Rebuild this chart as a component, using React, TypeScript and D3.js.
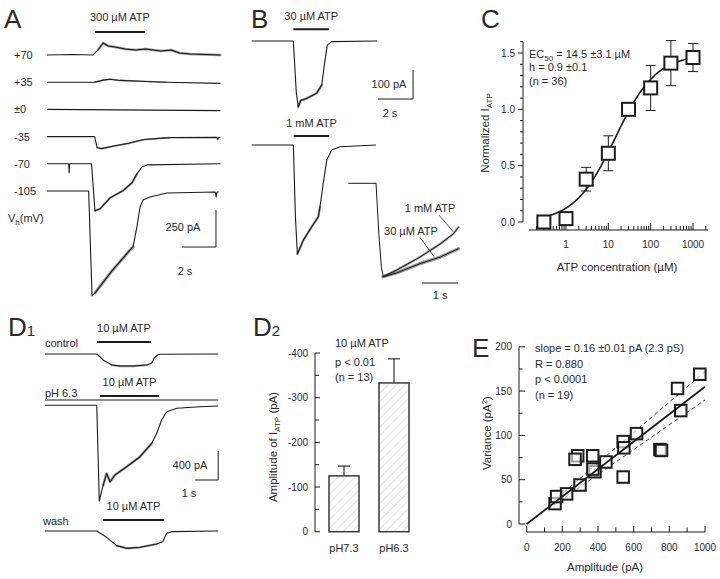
import React from 'react';
import * as d3 from 'd3';

const FONT = '"Liberation Sans", Arial, Helvetica, sans-serif';
const INK = '#1c1c1c';
const TXT = '#2a2a2a';

type P = [number, number];

// ---------- Panel A: holding-potential series (t in s, I in pA) ----------
const aLabels = ['+70', '+35', '±0', '-35', '-70', '-105'];
const aPos70: P[] = [[0, 0], [1.5, 3], [2.7, 0], [3.0, 34], [3.3, 81], [3.6, 61], [4.0, 54], [4.6, 41], [5.2, 34], [5.8, 41], [6.7, 27], [7.3, 34], [7.8, 14], [8.4, 7], [10.2, 0]];
const aPos35: P[] = [[0, 0], [2.8, 0], [3.3, 14], [3.7, 20], [4.3, 12], [5.5, 6], [7, 0], [10.2, -8]];
const aZero: P[] = [[0, 0], [10.2, -8]];
const aNeg35: P[] = [[0, 0], [2.8, 0], [2.95, -75], [3.2, -81], [4.0, -62], [4.8, -45], [5.7, -20], [7.2, -7], [10.0, -5], [10.05, -20], [10.1, -5], [10.2, -5]];
const aNeg70: P[] = [[0, 0], [1.28, 0], [1.3, -60], [1.33, 0], [2.62, 0], [2.82, -318], [3.12, -304], [3.71, -230], [4.47, -182], [5.0, -128], [5.29, -68], [5.59, -20], [5.94, -7], [10.2, 0]];
const aNeg105: P[] = [[0, 0], [2.45, 0], [2.65, -709], [2.82, -689], [3.82, -540], [4.88, -399], [5.06, -378], [5.29, -243], [5.47, -108], [5.65, -61], [6.06, -41], [7.06, -14], [9.9, -7], [9.95, -40], [10.0, -7], [10.1, -7]];
const aTraces = [aPos70, aPos35, aZero, aNeg35, aNeg70, aNeg105];
const aNoisy: P[] = [[2.8, 10.2], [2.8, 7], [0, 0], [2.9, 8], [2.8, 5.4], [2.7, 5.2]];
const aNoiseW = [2.6, 1.6, 0, 1.8, 2.2, 3];
const aApplication: P = [2.82, 5.76];

// ---------- Panel B ----------
const b30uM: P[] = [[0, 0], [2.38, 0], [2.55, -180], [2.66, -227], [2.8, -205], [3.14, -198], [3.71, -180], [4.0, -152], [4.19, -66], [4.32, -14], [4.57, -2], [7.16, 0]];
const b1mM: P[] = [[0, 0], [2.38, 0], [2.5, -250], [2.61, -376], [2.95, -328], [3.43, -282], [3.81, -247], [3.9, -213], [4.09, -132], [4.29, -52], [4.57, -17], [5.05, -6], [7.1, 0]];
const bApp30: P = [2.38, 4.43];
const bApp1m: P = [2.4, 4.43];
const bNorm1mM: P[] = [[0, 0], [0.77, 0], [0.85, -0.55], [0.92, -0.9], [0.97, -1.0], [1.34, -0.93], [1.99, -0.79], [2.55, -0.65], [2.92, -0.54], [3.06, -0.47]];
const bNorm30uM: P[] = [[0.97, -1.0], [1.34, -0.96], [1.99, -0.86], [2.55, -0.79], [3.06, -0.70]];

// ---------- Panel C: dose-response ----------
const cConc = [0.3, 1, 3, 10, 30, 100, 300, 1000];
const cMean = [0.0, 0.03, 0.38, 0.61, 1.0, 1.19, 1.41, 1.46];
const cErr = [0, 0, 0.105, 0.155, 0, 0.2, 0.2, 0.125];
const cXTicks = [1, 10, 100, 1000];
const cYTicks = [0, 0.5, 1.0, 1.5];
const hillEC50 = 14.5, hillN = 0.9, hillMax = 1.49;

// ---------- Panel D1 ----------
const dControl: P[] = [[0, 0], [2.26, 0], [2.53, -83], [2.9, -152], [3.26, -166], [3.84, -166], [4.42, -152], [4.64, -128], [4.74, -59], [4.93, -4], [7.53, 0]];
const dPH63: P[] = [[0, 0], [2.25, 0], [2.36, -1320], [2.53, -1100], [2.68, -940], [2.83, -1054], [3.04, -961], [3.55, -847], [4.13, -709], [4.64, -524], [4.86, -386], [5.07, -202], [5.29, -88], [5.73, -41], [6.74, -19], [7.53, -10]];
const dWash: P[] = [[0, 0], [2.25, 0], [2.68, -87], [3.12, -202], [3.55, -239], [4.13, -225], [4.86, -179], [5.12, -147], [5.29, -32], [5.51, -9], [7.53, 0]];
const dApps: P[] = [[2.26, 4.61], [2.39, 4.96], [2.52, 5.17]];

// ---------- Panel D2 ----------
const d2Cats = ['pH7.3', 'pH6.3'];
const d2Mean = [-125, -333];
const d2Err = [22, 54];
const d2Ticks = [0, -100, -200, -300, -400];

// ---------- Panel E ----------
const eAmp = [286, 271, 370, 444, 383, 541, 545, 616, 747, 756, 846, 864, 971, 541, 159, 168, 224, 299, 371];
const eVar = [77, 73, 77, 70, 59, 93, 86, 102, 84, 83, 153, 128, 169, 53, 23, 31, 34, 44, 62];
const eXTicks = [0, 200, 400, 600, 800, 1000];
const eYTicks = [0, 50, 100, 150, 200];
const eSlope = 0.155, eSlopeHi = 0.172, eSlopeLo = 0.14;

const txt = (extra: any = {}) => ({ fontFamily: FONT, fill: TXT, fontSize: 11, ...extra });

function Trace({ pts, x, k, base, noisy, noiseW, sw = 1.1 }: any) {
  const line = d3.line<P>().x(d => x(d[0])).y(d => base + k(d[1]));
  const band = noisy && noiseW > 0 ? pts.filter((d: P) => d[0] >= noisy[0] && d[0] <= noisy[1]) : null;
  return (
    <g>
      {band && band.length > 1 && (
        <path d={line(band) || ''} fill="none" stroke="#333" strokeOpacity={0.5} strokeWidth={noiseW} strokeLinejoin="round" strokeLinecap="round" />
      )}
      <path d={line(pts) || ''} fill="none" stroke={INK} strokeWidth={sw} strokeLinejoin="round" />
    </g>
  );
}

function ScaleBar({ x1, x2, y1, y2, lw = 1 }: any) {
  return <path d={`M${x1},${y2}H${x2}V${y1}`} fill="none" stroke={INK} strokeWidth={lw} />;
}

export default function App() {
  // Panel A scales
  const xA = d3.scaleLinear().domain([0, 10.2]).range([47, 47 + 10.2 * 17]);
  const kA = d3.scaleLinear().domain([0, -250]).range([0, 37]);
  const aBase = (i: number) => 55 + i * 27.2;

  // Panel B
  const xB = d3.scaleLinear().domain([0, 7.2]).range([251.7, 251.7 + 7.2 * 17.5]);
  const kB = d3.scaleLinear().domain([0, -100]).range([0, 29]);
  const xB2 = d3.scaleLinear().domain([0, 3.1]).range([348.3, 348.3 + 3.1 * 36]);
  const kB2 = d3.scaleLinear().domain([0, -1]).range([0, 93.4]);

  // Panel C
  const xC = d3.scaleLog().domain([1, 1000]).range([566, 693]);
  const yC = d3.scaleLinear().domain([0, 1.5]).range([222, 53]);
  const cMinor: number[] = [];
  [0.1, 1, 10, 100, 1000].forEach(dec => { for (let m = 2; m <= 9; m++) { const v = dec * m; if (v >= 0.2 && v <= 2000) cMinor.push(v); } });
  const hillPts: number[] = d3.range(-0.55, 3.08, 0.02).map(e => Math.pow(10, e));
  const hill = (c: number) => hillMax * Math.pow(c, hillN) / (Math.pow(c, hillN) + Math.pow(hillEC50, hillN));
  const hillLine = d3.line<number>().x(c => xC(c)).y(c => yC(hill(c))).curve(d3.curveBasis);

  // Panel D1
  const xD = d3.scaleLinear().domain([0, 7.53]).range([45, 45 + 7.53 * 23]);
  const kD = d3.scaleLinear().domain([0, -400]).range([0, 29]);
  const dBases = [354, 405.3, 531];

  // Panel D2
  const yD2 = d3.scaleLinear().domain([0, -400]).range([531.7, 353]);
  const xD2 = d3.scaleBand().domain(d2Cats).range([319, 419]).paddingInner(0.4).paddingOuter(0.2);

  // Panel E
  const xE = d3.scaleLinear().domain([0, 1000]).range([526.7, 705]);
  const yE = d3.scaleLinear().domain([0, 200]).range([524, 346.8]);
  const sq = 11.5;

  return (
    <svg width={720} height={579} viewBox="0 0 720 579" style={{ position: 'absolute', left: 0, top: 0, background: '#fff' }}>
      <defs>
        <pattern id="hatch" width="6" height="6" patternUnits="userSpaceOnUse" patternTransform="rotate(45)">
          <line x1="0" y1="0" x2="0" y2="6" stroke="#b5b5b5" strokeWidth="0.8" />
        </pattern>
      </defs>
      <rect width={720} height={579} fill="#fff" />

      {/* ---------------- Panel A ---------------- */}
      <text x={4} y={28} {...txt({ fontSize: 26 })}>A</text>
      <text x={(xA(aApplication[0]) + xA(aApplication[1])) / 2} y={21} textAnchor="middle" {...txt()}>300 µM ATP</text>
      <line x1={xA(aApplication[0])} x2={xA(aApplication[1])} y1={32} y2={32} stroke={INK} strokeWidth={2} />
      {aTraces.map((pts, i) => (
        <g key={i}>
          <text x={14} y={aBase(i) + 4} {...txt()}>{aLabels[i]}</text>
          <Trace pts={pts} x={xA} k={kA} base={aBase(i)} noisy={aNoisy[i]} noiseW={aNoiseW[i]} />
        </g>
      ))}
      <text x={8} y={222} {...txt()}>V<tspan fontSize={8} dy={3}>h</tspan><tspan dy={-3}>(mV)</tspan></text>
      <ScaleBar x1={xA(7.94)} x2={xA(9.94)} y1={247 + kA(-250) - 2 * kA(-250)} y2={247} />
      <text x={183} y={231} textAnchor="middle" {...txt()}>250 pA</text>
      <text x={185} y={275} textAnchor="middle" {...txt()}>2 s</text>

      {/* ---------------- Panel B ---------------- */}
      <text x={251} y={28} {...txt({ fontSize: 26 })}>B</text>
      <text x={(xB(bApp30[0]) + xB(bApp30[1])) / 2} y={20} textAnchor="middle" {...txt()}>30 µM ATP</text>
      <line x1={xB(bApp30[0])} x2={xB(bApp30[1])} y1={29.3} y2={29.3} stroke={INK} strokeWidth={2} />
      <Trace pts={b30uM} x={xB} k={kB} base={41} noisy={[2.6, 4.0]} noiseW={2.6} />
      <text x={(xB(bApp1m[0]) + xB(bApp1m[1])) / 2} y={127} textAnchor="middle" {...txt()}>1 mM ATP</text>
      <line x1={xB(bApp1m[0])} x2={xB(bApp1m[1])} y1={136} y2={136} stroke={INK} strokeWidth={2} />
      <Trace pts={b1mM} x={xB} k={kB} base={145} noisy={[2.6, 3.9]} noiseW={2.4} />
      <ScaleBar x1={xB(7.22)} x2={xB(9.22)} y1={99 - kB(-100)} y2={99} />
      <text x={389} y={88} textAnchor="middle" {...txt()}>100 pA</text>
      <text x={390} y={117} textAnchor="middle" {...txt()}>2 s</text>
      <Trace pts={bNorm1mM} x={xB2} k={kB2} base={183.3} noisy={[0.97, 3.06]} noiseW={2.4} sw={1} />
      <Trace pts={bNorm30uM} x={xB2} k={kB2} base={183.3} noisy={[0.97, 3.06]} noiseW={3.4} sw={1} />
      <text x={430} y={212} textAnchor="middle" {...txt()}>1 mM ATP</text>
      <text x={411} y={235} textAnchor="middle" {...txt()}>30 µM ATP</text>
      <line x1={439} y1={215} x2={453} y2={231.5} stroke={INK} strokeWidth={0.8} />
      <line x1={420} y1={237.5} x2={434} y2={256.5} stroke={INK} strokeWidth={0.8} />
      <line x1={xB2(2.05)} x2={xB2(3.05)} y1={283} y2={283} stroke={INK} strokeWidth={1} />
      <text x={(xB2(2.05) + xB2(3.05)) / 2} y={299} textAnchor="middle" {...txt()}>1 s</text>

      {/* ---------------- Panel C ---------------- */}
      <text x={481} y={28} {...txt({ fontSize: 26 })}>C</text>
      <line x1={523} x2={523} y1={yC(1.6)} y2={yC(0)} stroke={INK} strokeWidth={1} />
      {d3.range(0, 17).map(i => {
        const v = i / 10;
        const major = i % 5 === 0;
        return <line key={i} x1={523 - (major ? 5 : 3)} x2={523} y1={yC(v)} y2={yC(v)} stroke={INK} strokeWidth={1} />;
      })}
      {cYTicks.map(v => (
        <text key={v} x={515} y={yC(v) + 3.5} textAnchor="end" {...txt({ fontSize: 10 })}>{v.toFixed(1)}</text>
      ))}
      <line x1={529} x2={708} y1={230} y2={230} stroke={INK} strokeWidth={1} />
      {cMinor.map(v => <line key={'m' + v} x1={xC(v)} x2={xC(v)} y1={230} y2={226} stroke={INK} strokeWidth={1} />)}
      {cXTicks.map(v => (
        <g key={v}>
          <line x1={xC(v)} x2={xC(v)} y1={230} y2={223} stroke={INK} strokeWidth={1} />
          <text x={xC(v)} y={248} textAnchor="middle" {...txt({ fontSize: 10 })}>{v}</text>
        </g>
      ))}
      <text x={617} y={271} textAnchor="middle" {...txt({ fontSize: 11.5 })}>ATP concentration (µM)</text>
      <text transform="translate(489,133) rotate(-90)" textAnchor="middle" {...txt({ fontSize: 11.5 })}>Normalized I<tspan fontSize={8} dy={3}>ATP</tspan></text>
      {cConc.map((c, i) => cErr[i] > 0 && (
        <g key={'e' + i} stroke={INK} strokeWidth={1}>
          <line x1={xC(c)} x2={xC(c)} y1={yC(cMean[i] - cErr[i])} y2={yC(cMean[i] + cErr[i])} />
          <line x1={xC(c) - 5} x2={xC(c) + 5} y1={yC(cMean[i] - cErr[i])} y2={yC(cMean[i] - cErr[i])} />
          <line x1={xC(c) - 5} x2={xC(c) + 5} y1={yC(cMean[i] + cErr[i])} y2={yC(cMean[i] + cErr[i])} />
        </g>
      ))}
      <path d={hillLine(hillPts) || ''} fill="none" stroke={INK} strokeWidth={1.6} />
      {cConc.map((c, i) => (
        <rect key={'s' + i} x={xC(c) - 6.5} y={yC(cMean[i]) - 6.5} width={13} height={13} fill="#fff" stroke={INK} strokeWidth={2} />
      ))}
      <text x={529} y={57.5} {...txt()}>EC<tspan fontSize={8} dy={3}>50</tspan><tspan dy={-3}> = 14.5 ±3.1 µM</tspan></text>
      <text x={529} y={71} {...txt()}>h = 0.9 ±0.1</text>
      <text x={529} y={85} {...txt()}>(n = 36)</text>

      {/* ---------------- Panel D1 ---------------- */}
      <text x={8} y={336} {...txt({ fontSize: 26 })}>D<tspan fontSize={15}>1</tspan></text>
      <text x={45} y={346.5} {...txt()}>control</text>
      <text x={45} y={397} {...txt()}>pH 6.3</text>
      <text x={43} y={524.5} {...txt()}>wash</text>
      {[dControl, dPH63, dWash].map((pts, i) => (
        <Trace key={i} pts={pts} x={xD} k={kD} base={dBases[i]} noisy={i === 0 ? [2.8, 4.5] : i === 1 ? [2.4, 4.7] : [2.7, 5.1]} noiseW={i === 1 ? 2.6 : 2.2} />
      ))}
      {dApps.map((a, i) => {
        const by = [342, 396, 520][i];
        return (
          <g key={i}>
            <line x1={xD(a[0])} x2={xD(a[1])} y1={by} y2={by} stroke={INK} strokeWidth={2} />
            <text x={(xD(a[0]) + xD(a[1])) / 2} y={by - 10} textAnchor="middle" {...txt()}>10 µM ATP</text>
          </g>
        );
      })}
      <line x1={xD(0)} x2={xD(7.53)} y1={400} y2={400} stroke={INK} strokeWidth={1} />
      <ScaleBar x1={xD(6.53)} x2={xD(7.53)} y1={480 - kD(-400)} y2={480} />
      <text x={190} y={469} textAnchor="middle" {...txt()}>400 pA</text>
      <text x={189} y={496.5} textAnchor="middle" {...txt()}>1 s</text>

      {/* ---------------- Panel D2 ---------------- */}
      <text x={253} y={336} {...txt({ fontSize: 26 })}>D<tspan fontSize={15}>2</tspan></text>
      <line x1={315} x2={315} y1={yD2(-400)} y2={yD2(0)} stroke={INK} strokeWidth={1} />
      {d3.range(0, 9).map(i => {
        const v = -i * 50;
        return <line key={i} x1={315} x2={315 + (i % 2 === 0 ? 5 : 4)} y1={yD2(v)} y2={yD2(v)} stroke={INK} strokeWidth={1} />;
      })}
      {d2Ticks.map(v => (
        <text key={v} x={308} y={yD2(v) + 3.5} textAnchor="end" {...txt({ fontSize: 10 })}>{v === 0 ? '0' : String(v)}</text>
      ))}
      {d2Cats.map((c, i) => {
        const x0 = xD2(c) as number;
        const w = xD2.bandwidth();
        return (
          <g key={c}>
            <line x1={x0 + w / 2} x2={x0 + w / 2} y1={yD2(d2Mean[i])} y2={yD2(d2Mean[i] - d2Err[i])} stroke="#333" strokeWidth={1.2} />
            <line x1={x0 + w / 2 - 6} x2={x0 + w / 2 + 6} y1={yD2(d2Mean[i] - d2Err[i])} y2={yD2(d2Mean[i] - d2Err[i])} stroke="#333" strokeWidth={1.2} />
            <rect x={x0} y={yD2(d2Mean[i])} width={w} height={yD2(0) - yD2(d2Mean[i])} fill="url(#hatch)" stroke="#3a3a3a" strokeWidth={1.5} />
            <text x={x0 + w / 2} y={552} textAnchor="middle" {...txt()}>{c}</text>
          </g>
        );
      })}
      <text x={335} y={347} {...txt()}>10 µM ATP</text>
      <text x={335} y={366} {...txt()}>p &lt; 0.01</text>
      <text x={335} y={380.5} {...txt()}>(n = 13)</text>
      <text transform="translate(277,447) rotate(-90)" textAnchor="middle" {...txt({ fontSize: 11.5 })}>Amplitude of I<tspan fontSize={8} dy={3}>ATP</tspan><tspan dy={-3}> (pA)</tspan></text>

      {/* ---------------- Panel E ---------------- */}
      <text x={472} y={357} {...txt({ fontSize: 26 })}>E</text>
      <line x1={519} x2={519} y1={yE(200)} y2={yE(0)} stroke={INK} strokeWidth={1} />
      {d3.range(0, 9).map(i => {
        const v = i * 25;
        return <line key={i} x1={519} x2={519 + (i % 2 === 0 ? 6 : 3.5)} y1={yE(v)} y2={yE(v)} stroke={INK} strokeWidth={1} />;
      })}
      {eYTicks.map(v => (
        <text key={v} x={512} y={yE(v) + 3.5} textAnchor="end" {...txt({ fontSize: 10 })}>{v}</text>
      ))}
      <line x1={xE(0)} x2={xE(1000)} y1={532} y2={532} stroke={INK} strokeWidth={1} />
      {d3.range(0, 11).map(i => {
        const v = i * 100;
        return <line key={i} x1={xE(v)} x2={xE(v)} y1={532} y2={532 - (i % 2 === 0 ? 6 : 4.5)} stroke={INK} strokeWidth={1} />;
      })}
      {eXTicks.map(v => (
        <text key={v} x={xE(v)} y={551} textAnchor="middle" {...txt({ fontSize: 10 })}>{v}</text>
      ))}
      <text x={605} y={571} textAnchor="middle" {...txt({ fontSize: 11.5 })}>Amplitude (pA)</text>
      <text transform="translate(491,433) rotate(-90)" textAnchor="middle" {...txt({ fontSize: 11.5 })}>Variance (pA<tspan fontSize={8} dy={-4}>2</tspan><tspan dy={4}>)</tspan></text>
      <line x1={xE(120)} y1={yE(120 * eSlopeHi)} x2={xE(1000)} y2={yE(1000 * eSlopeHi)} stroke={INK} strokeWidth={0.9} strokeDasharray="4,3" />
      <line x1={xE(120)} y1={yE(120 * eSlopeLo)} x2={xE(1000)} y2={yE(1000 * eSlopeLo)} stroke={INK} strokeWidth={0.9} strokeDasharray="4,3" />
      {eAmp.map((a, i) => (
        <rect key={i} x={xE(a) - sq / 2} y={yE(eVar[i]) - sq / 2} width={sq} height={sq} fill="#fff" fillOpacity={0.6} stroke={INK} strokeWidth={2} />
      ))}
      <line x1={xE(0)} y1={yE(0)} x2={xE(1000)} y2={yE(1000 * eSlope)} stroke={INK} strokeWidth={1.8} />
      <text x={535} y={352} {...txt()}>slope = 0.16 ±0.01 pA (2.3 pS)</text>
      <text x={535} y={367.5} {...txt()}>R = 0.880</text>
      <text x={535} y={383} {...txt()}>p &lt; 0.0001</text>
      <text x={535} y={398.5} {...txt()}>(n = 19)</text>
    </svg>
  );
}
